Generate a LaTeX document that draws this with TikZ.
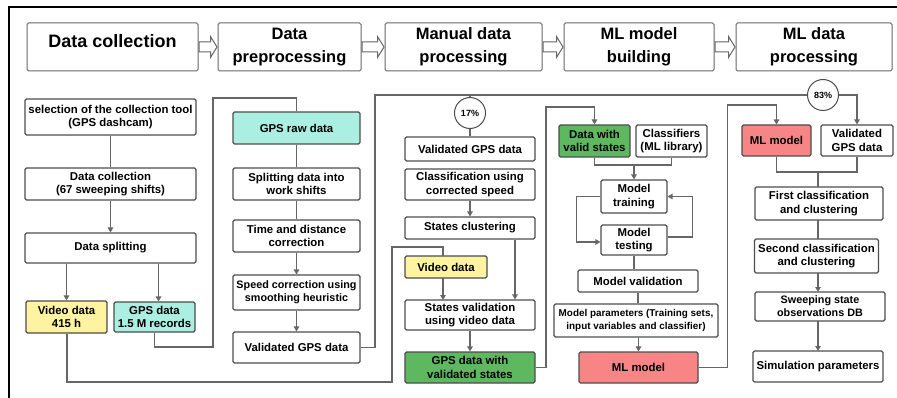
\documentclass[tikz,border=0pt]{standalone}
\usepackage{fontspec}
\setmainfont{Liberation Sans}
\usetikzlibrary{arrows.meta,calc}
\definecolor{cyanf}{HTML}{ABEFE3}
\definecolor{yelf}{HTML}{FDF3A1}
\definecolor{grnf}{HTML}{5DB85F}
\definecolor{redf}{HTML}{F78585}
\definecolor{bord}{HTML}{4D4D4D}
\definecolor{conc}{HTML}{666666}
\tikzset{
  box/.style={draw=bord, line width=1.1pt, rounded corners=1.5pt, fill=white, align=center,
    inner sep=0.5pt, font=\fontsize{11.4}{13.5}\selectfont\bfseries},
  sbox/.style={box, font=\fontsize{9.9}{12.5}\selectfont\bfseries},
  mbox/.style={box, font=\fontsize{10.8}{13}\selectfont\bfseries},
  hdr/.style={draw=conc, line width=1pt, rounded corners=1.5pt, fill=white, align=center,
    inner sep=1pt, minimum height=48pt, font=\fontsize{16.5}{23}\selectfont\bfseries},
  pct/.style={circle, draw=bord, line width=1pt, fill=white, minimum size=31pt, inner sep=0pt,
    font=\fontsize{9}{10}\selectfont\bfseries},
  conn/.style={draw=conc, line width=1.6pt},
  arr/.style={conn, -{Triangle[width=5.5pt,length=5pt]}},
  harr/.style={draw=conc, line width=1pt, fill=white},
}
\newcommand{\blockarr}[2]{\draw[harr] let \p1=(#1.east), \p2=(#2.west) in
  (\x1+0.5pt,\y1-5pt) -- (\x2-7pt,\y1-5pt) -- (\x2-7pt,\y1-10.5pt) -- (\x2-0.5pt,\y1)
  -- (\x2-7pt,\y1+10.5pt) -- (\x2-7pt,\y1+5pt) -- (\x1+0.5pt,\y1+5pt) -- cycle;}
\begin{document}
\begin{tikzpicture}[x=1pt,y=-1pt]
\useasboundingbox (0,0) rectangle (897,398);
% frame
\draw[line width=2.6pt] (9,7) -- (897,7);
\draw[line width=2.6pt] (9,5.7) -- (9,398);
% headers
\node[hdr, minimum width=171pt, font=\fontsize{18}{23}\selectfont\bfseries] (h1) at (112.5,47) {\raisebox{6pt}[\height][\depth]{Data collection}};
\node[hdr, minimum width=143pt] (h2) at (289.5,47) {Data\\preprocessing};
\node[hdr, minimum width=157pt] (h3) at (463.5,47) {Manual data\\processing};
\node[hdr, minimum width=150pt] (h4) at (639,47) {ML model\\building};
\node[hdr, minimum width=156pt] (h5) at (814,47) {ML data\\processing};
\blockarr{h1}{h2}
\blockarr{h2}{h3}
\blockarr{h3}{h4}
\blockarr{h4}{h5}
% column 1
\node[box, minimum width=171pt, minimum height=36pt] (a1) at (110.5,117) {selection of the collection tool\\(GPS dashcam)};
\node[box, minimum width=171pt, minimum height=32pt] (a2) at (110.5,184) {Data collection\\(67 sweeping shifts)};
\node[box, minimum width=171pt, minimum height=30pt] (a3) at (110.5,248) {Data splitting};
\node[box, fill=yelf, minimum width=81pt, minimum height=32pt] (a4) at (66.5,317) {Video data\\415 h};
\node[box, fill=cyanf, minimum width=81pt, minimum height=30pt] (a5) at (154.5,317) {GPS data\\1.5 M records};
% column 2
\node[box, fill=cyanf, minimum width=127pt, minimum height=32pt] (b1) at (296.5,128) {GPS raw data};
\node[box, minimum width=127pt, minimum height=32pt] (b2) at (296.5,184) {Splitting data into\\work shifts};
\node[box, minimum width=127pt, minimum height=32pt] (b3) at (296.5,236) {Time and distance\\correction};
\node[mbox, minimum width=127pt, minimum height=35pt] (b4) at (296.5,292.5) {Speed correction using\\smoothing heuristic};
\node[box, minimum width=127pt, minimum height=31pt] (b5) at (296.5,347.5) {Validated GPS data};
% column 3
\node[pct] (p17) at (470,113) {17\%};
\node[box, minimum width=130pt, minimum height=24pt] (c1) at (470,149) {Validated GPS data};
\node[box, minimum width=130pt, minimum height=31pt] (c2) at (470,184.5) {Classification using\\corrected speed};
\node[box, minimum width=130pt, minimum height=22pt] (c3) at (470,228) {States clustering};
\node[box, fill=yelf, minimum width=82pt, minimum height=22pt] (cv) at (446,267) {Video data};
\node[box, minimum width=130pt, minimum height=30pt] (c4) at (470,315) {States validation\\using video data};
\node[box, fill=grnf, minimum width=130pt, minimum height=31pt] (c5) at (470,367.5) {GPS data with\\validated states};
% column 4
\node[box, fill=grnf, minimum width=71pt, minimum height=32pt] (d1) at (594.5,141) {Data with\\valid states};
\node[box, minimum width=71pt, minimum height=32pt] (d2) at (671.5,141) {Classifiers\\(ML library)};
\node[box, minimum width=66pt, minimum height=33pt] (d3) at (634,196.5) {Model\\training};
\node[box, minimum width=66pt, minimum height=30pt] (d4) at (634,240) {Model\\testing};
\node[box, minimum width=120pt, minimum height=22pt] (d5) at (638,281) {Model validation};
\node[sbox, minimum width=164pt, minimum height=33pt] (d6) at (636,320.5) {Model parameters (Training sets,\\input variables and classifier)};
\node[box, fill=redf, minimum width=119pt, minimum height=31pt] (d7) at (638.5,367.5) {ML model};
% column 5
\node[pct] (p83) at (823,95) {83\%};
\node[box, fill=redf, minimum width=69pt, minimum height=31pt] (e1) at (776.5,140.5) {ML model};
\node[box, minimum width=72pt, minimum height=31pt] (e2) at (857,140.5) {Validated\\GPS data};
\node[box, minimum width=128pt, minimum height=33pt] (f1) at (819,203.5) {First classification\\and clustering};
\node[box, minimum width=124pt, minimum height=34pt] (f2) at (816.5,256) {Second classification\\and clustering};
\node[mbox, minimum width=130pt, minimum height=29pt] (f3) at (820,306.5) {Sweeping state\\observations DB};
\node[box, minimum width=130pt, minimum height=31pt] (f4) at (818,366.5) {Simulation parameters};
% helper coordinates
\coordinate (y165) at (0,165);
\coordinate (y172) at (0,172);
\coordinate (y95) at (0,95);
% connectors column 1
\draw[conn] (a1) -- (a2);
\draw[arr] (a2) -- (a3);
\draw[arr] (a3.south -| a4.north) -- (a4.north);
\draw[arr] ($(a3.south -| a5.north)+(4,0)$) -- ($(a5.north)+(4,0)$);
\draw[conn] (a5.south) |- (213,347) |- (296.5,98) -- (b1.north);
\draw[conn] ($(a4.south)+(0.5,0)$) |- (392,382) |- (443,247) -- (443,256);
% column 2
\draw[conn] (b1) -- (b2);
\draw[conn] (b2) -- (b3);
\draw[arr] (b3) -- (b4);
\draw[arr] (b4) -- (b5);
\draw[conn] (b5.east) -| (375,95) -- (p83.west);
% column 3
\draw[conn] (p17.north) -- (p17.north |- y95);
\draw[conn] (p17) -- (c1);
\draw[arr] (c2) -- (c3);
\draw[arr] (c3.south -| 515,0) -- (c4.north -| 515,0);
\draw[arr] (443,278) -- (443,300);
\draw[arr] (c4) -- (c5);
\draw[arr] (c5.east) -| (546,107) -| (d1.north);
% column 4
\draw[conn] (d1.south) |- (d1.south |- y165) -| (d2.south);
\draw[arr] (d3.north |- y165) -- (d3.north);
\draw[arr] (d3.west) -- ++(-24,0) |- ($(d4.west)+(0,2)$);
\draw[arr] ($(d4.east)+(0,-3)$) -- ++(25,0) |- (d3.east);
\draw[conn] (d4.south) -- (d4.south |- d5.north);
\draw[conn] (d5.south) -- (d5.south |- d6.north);
\draw[arr] (d6.south -| d7.north) -- (d7.north);
\draw[arr] (d7.east) -| (727.5,105) -| (e1.north);
% column 5
\draw[arr] (p83.east) -| (e2.north);
\draw[conn] (e1.south) |- (e1.south |- y172) -| (e2.south);
\draw[conn] (818,172) -- (818,187);
\draw[conn] (818,220) -- (818,239);
\draw[arr] (818,273) -- (818,292);
\draw[arr] (818,321) -- (818,351);
\end{tikzpicture}
\end{document}
